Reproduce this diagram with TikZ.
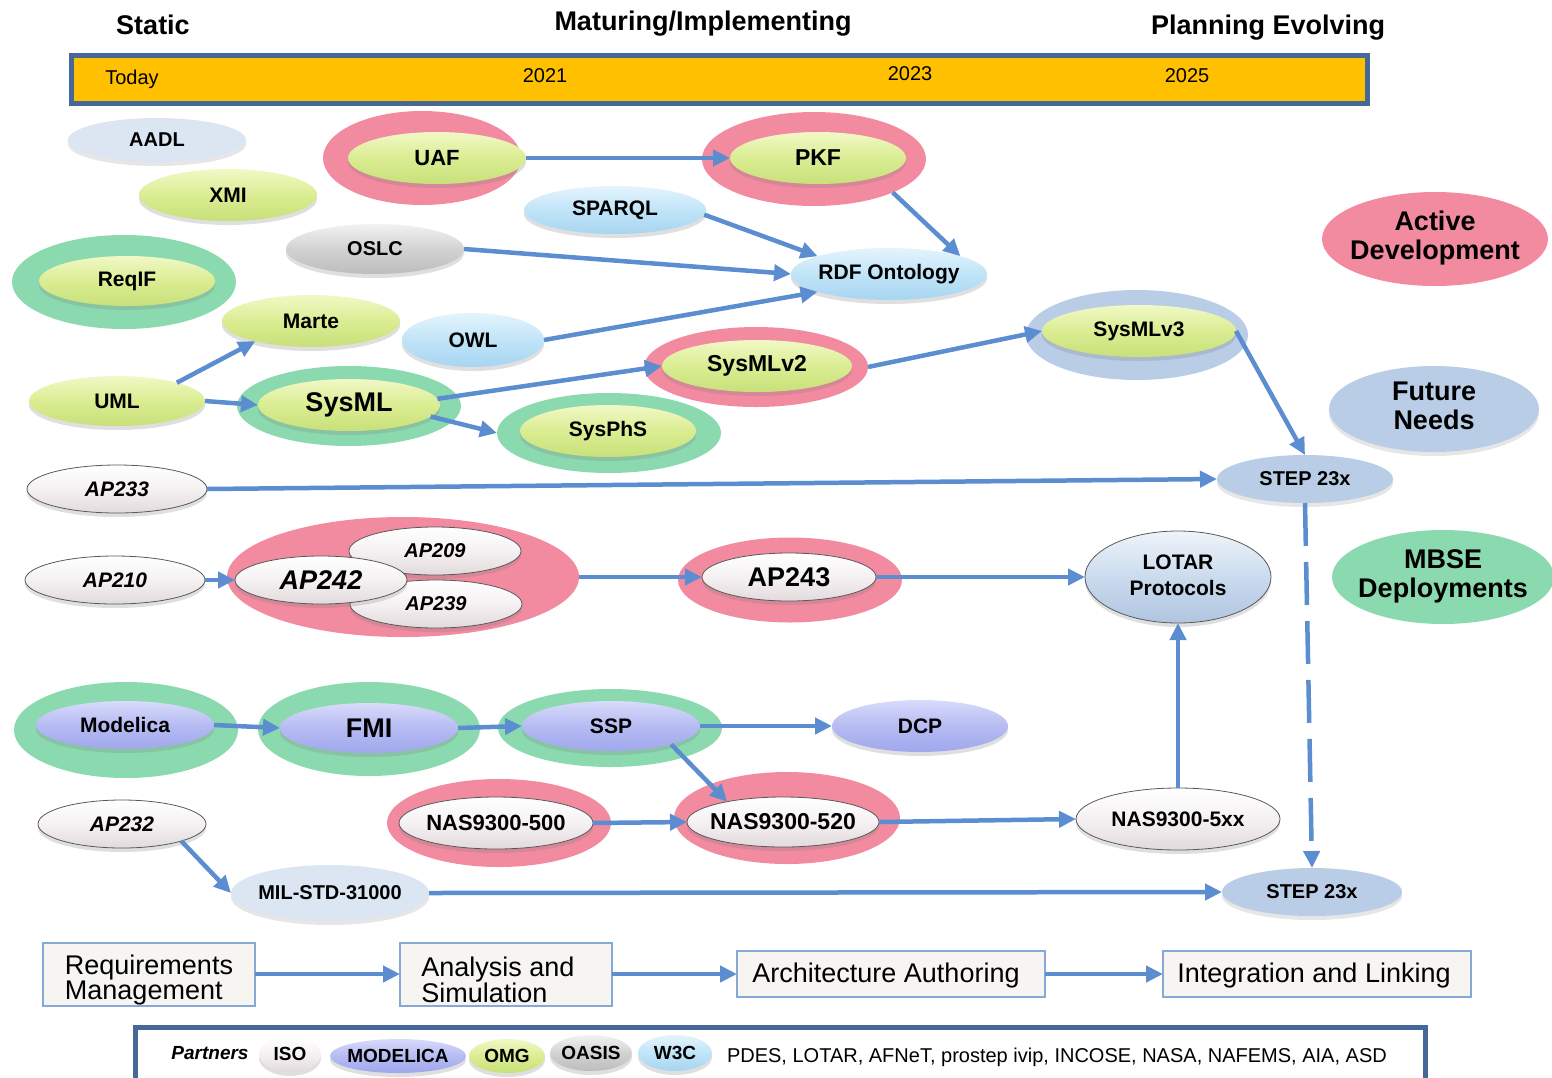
\documentclass[tikz,border=0pt]{standalone}
\usepackage{fontspec}
\setmainfont{Liberation Sans}
\usetikzlibrary{shapes.geometric,arrows.meta,shadows}

\definecolor{linkblue}{HTML}{5B8DD0}
\definecolor{barfill}{HTML}{FFC000}
\definecolor{barline}{HTML}{46679A}
\definecolor{pinkhalo}{HTML}{F28AA0}
\definecolor{greenhalo}{HTML}{8BDAAF}
\definecolor{bluehalo}{HTML}{BACDE6}
\definecolor{paleblue}{HTML}{DCE6F2}
\definecolor{boxfill}{HTML}{F6F5F1}
\definecolor{boxline}{HTML}{85A8D6}
% glossy oval colours (top / middle / bottom)
\definecolor{ygT}{HTML}{F1F8C6}\definecolor{ygM}{HTML}{DAED92}\definecolor{ygB}{HTML}{C8E07A}
\definecolor{lbT}{HTML}{E4F4FC}\definecolor{lbM}{HTML}{C0E4F8}\definecolor{lbB}{HTML}{A8D5F1}
\definecolor{gyT}{HTML}{F2F2F2}\definecolor{gyM}{HTML}{D2D2D2}\definecolor{gyB}{HTML}{BDBDBD}
\definecolor{puT}{HTML}{D8DBFA}\definecolor{puM}{HTML}{B6BBF3}\definecolor{puB}{HTML}{A0A8EC}
\definecolor{wtT}{HTML}{FFFFFF}\definecolor{wtM}{HTML}{F5F1F2}\definecolor{wtB}{HTML}{E2DADC}
\definecolor{ltT}{HTML}{EEF4FA}\definecolor{ltM}{HTML}{CBDBEE}\definecolor{ltB}{HTML}{B0C5E0}

\newcommand{\ctext}[1]{\makebox[0pt]{#1}}
\newcommand{\twol}[2]{\makebox[0pt]{\begin{tabular}{@{}c@{}}#1\\#2\end{tabular}}}
\newcommand{\fsz}[1]{\fontsize{#1}{#1}\selectfont}

\begin{document}
\begin{tikzpicture}[x=1pt,y=-1pt,
  every node/.style={inner sep=0pt,outer sep=0pt},
  wh/.style 2 args={ellipse,minimum width=#1pt,minimum height=#2pt},
  lab/.style={font=\fsz{#1}\bfseries},
  lab/.default=21,
  ilab/.style={font=\fsz{#1}\bfseries\itshape},
  ilab/.default=21,
  halo/.style={ellipse,fill=#1},
  gl/.style={ellipse,lab,drop shadow={opacity=.25,shadow xshift=0pt,shadow yshift=-4pt}},
  yg/.style={gl,top color=ygT,bottom color=ygB,middle color=ygM},
  lb/.style={gl,top color=lbT,bottom color=lbB,middle color=lbM},
  gy/.style={gl,top color=gyT,bottom color=gyB,middle color=gyM},
  pu/.style={gl,top color=puT,bottom color=puB,middle color=puM},
  wt/.style={gl,top color=wtT,bottom color=wtB,middle color=wtM,draw=black!65,line width=.8pt},
  lt/.style={gl,top color=ltT,bottom color=ltB,middle color=ltM,draw=black!65,line width=.8pt},
  flat/.style={ellipse,lab,fill=#1,drop shadow={opacity=.2,shadow xshift=0pt,shadow yshift=-4pt}},
  link/.style={draw=linkblue,line width=4.5pt,-{Triangle[length=17pt,width=16pt]}},
  stage/.style={draw=boxline,line width=2pt,fill=boxfill},
  stagetext/.style={font=\fontsize{27}{24}\selectfont,align=left},
  head/.style={font=\fsz{27}\bfseries},
  year/.style={font=\fsz{20}}
]
\useasboundingbox (0,0) rectangle (1552,1077);

% ---------- time line ----------
\node[head] (hstatic) at (153,25) {Static};
\node[head] (hmature) at (703,24) {Maturing/Implementing};
\node[head] (hplan) at (1268,28) {Planning Evolving};
\draw[barline,line width=5pt,fill=barfill] (71,55) rectangle (1367,103);
\node[year] (ytoday) at (132,79) {Today};
\node[year] (y2021) at (545,76) {2021};
\node[year] (y2023) at (910,74) {2023};
\node[year] (y2025) at (1187,76) {2025};

% ---------- halos ----------
\node[halo=pinkhalo,wh={198}{94}] (uafh) at (422,158) {};
\node[halo=pinkhalo,wh={224}{94}] (pkfh) at (814,159) {};
\node[halo=greenhalo,wh={224}{94}] (reqifh) at (124,282) {};
\node[halo=pinkhalo,wh={224}{80}] (v2h) at (756,367) {};
\node[halo=bluehalo,wh={222}{90}] (v3h) at (1137,335) {};
\node[halo=greenhalo,wh={224}{80}] (sysmlh) at (349,406) {};
\node[halo=greenhalo,wh={224}{80}] (sysphsh) at (609,433) {};
\node[halo=pinkhalo,wh={352}{120}] (ap242h) at (403,577) {};
\node[halo=pinkhalo,wh={224}{85}] (ap243h) at (790,580) {};
\node[halo=greenhalo,wh={224}{96}] (modelicah) at (126,730) {};
\node[halo=greenhalo,wh={222}{94}] (fmih) at (369,729) {};
\node[halo=greenhalo,wh={224}{78}] (ssph) at (610,728) {};
\node[halo=pinkhalo,wh={224}{88}] (nas500h) at (499,823) {};
\node[halo=pinkhalo,wh={226}{92}] (nas520h) at (787,818) {};

% ---------- legend ovals ----------
\node[halo=pinkhalo,wh={226}{94},font=\fsz{27}\bfseries] (active) at (1435,239) {\fontsize{27}{29}\selectfont\twol{Active}{Development}};
\node[halo=bluehalo,wh={210}{86},font=\fsz{27}\bfseries,drop shadow={opacity=.2,shadow xshift=0pt,shadow yshift=-4pt}] (future) at (1434,409) {\fontsize{27}{29}\selectfont\twol{Future}{Needs}};
\node[halo=greenhalo,wh={222}{94},font=\fsz{27}\bfseries] (mbse) at (1443,577) {\fontsize{27}{29}\selectfont\twol{MBSE}{Deployments}};

% ---------- standards ----------
\node[flat=paleblue,wh={178}{44},lab=20] (aadl) at (157,140) {\ctext{AADL}};
\node[yg,wh={178}{52}] (xmi) at (228,195) {\ctext{XMI}};
\node[yg,wh={178}{52},lab=22] (uaf) at (437,158) {\ctext{UAF}};
\node[yg,wh={176}{52},lab=23] (pkf) at (818,158) {\ctext{PKF}};
\node[lb,wh={182}{48}] (sparql) at (615,210) {\ctext{SPARQL}};
\node[gy,wh={178}{50},lab=20] (oslc) at (375,249) {\ctext{OSLC}};
\node[lb,wh={196}{52}] (rdf) at (889,274) {\ctext{RDF Ontology}};
\node[yg,wh={176}{50}] (reqif) at (127,281) {\ctext{ReqIF}};
\node[yg,wh={178}{52}] (marte) at (311,321) {\ctext{Marte}};
\node[lb,wh={142}{54}] (owl) at (473,340) {\ctext{OWL}};
\node[yg,wh={190}{52},lab=23] (v2) at (757,366) {\ctext{SysMLv2}};
\node[yg,wh={194}{52}] (v3) at (1139,331) {\ctext{SysMLv3}};
\node[yg,wh={176}{50}] (uml) at (117,401) {\ctext{UML}};
\node[yg,wh={182}{52},lab=27] (sysml) at (349,405) {\ctext{SysML}};
\node[yg,wh={176}{52}] (sysphs) at (608,431) {\ctext{SysPhS}};
\node[flat=bluehalo,wh={176}{48},lab=20] (stept) at (1305,479) {\ctext{STEP 23x}};

\node[wt,wh={180}{48},ilab] (ap233) at (117,489) {\ctext{AP233}};
\node[wt,wh={180}{48},ilab] (ap210) at (115,580) {\ctext{AP210}};
\node[wt,wh={172}{48},ilab=20] (ap209) at (435,551) {\ctext{AP209}};
\node[wt,wh={172}{48},ilab=20] (ap239) at (436,604) {\ctext{AP239}};
\node[wt,wh={172}{48},ilab=27] (ap242) at (321,580) {\ctext{AP242}};
\node[wt,wh={174}{48},lab=27] (ap243) at (789,577) {\ctext{AP243}};
\node[lt,wh={186}{92}] (lotar) at (1178,577) {\fontsize{21}{26}\selectfont\twol{LOTAR}{Protocols}};

\node[pu,wh={178}{48}] (modelica) at (125,725) {\ctext{Modelica}};
\node[pu,wh={178}{50},lab=27] (fmi) at (369,728) {\ctext{FMI}};
\node[pu,wh={178}{50}] (ssp) at (611,726) {\ctext{SSP}};
\node[pu,wh={176}{52}] (dcp) at (920,726) {\ctext{DCP}};
\node[wt,wh={168}{48},ilab] (ap232) at (122,824) {\ctext{AP232}};
\node[wt,wh={194}{52},lab=22] (nas500) at (496,823) {\ctext{NAS9300-500}};
\node[wt,wh={192}{50},lab=23] (nas520) at (783,822) {\ctext{NAS9300-520}};
\node[wt,wh={204}{62}] (nas5xx) at (1178,819) {\ctext{NAS9300-5xx}};
\node[flat=paleblue,wh={198}{56},lab=20] (mil) at (330,893) {\ctext{MIL-STD-31000}};
\node[flat=bluehalo,wh={180}{48},lab=20] (stepb) at (1312,892) {\ctext{STEP 23x}};

% ---------- connectors ----------
\draw[link] (uaf.east) -- (pkf.west);
\draw[link] (pkfh.-23) -- (rdf.14);
\draw[link] (sparql.-3) -- (rdf.166);
\draw[link] (oslc.east) -- (rdf.west);
\draw[link] (owl.east) -- (rdf.194);
\draw[link] (uml.17) -- (marte.200);
\draw[link] (uml.east) -- (sysml.west);
\draw[link] (sysml.4) -- (v2.west);
\draw[link] (sysml.-8) -- (sysphsh.west);
\draw[link] (v2h.east) -- (v3.west);
\draw[link] (v3.east) -- (stept.north);
\draw[link] (ap233.east) -- (stept.west);
\draw[link] (ap210.east) -- (ap242.west);
\draw[link] (ap242h.east) -- (ap243.west);
\draw[link] (ap243.east) -- (lotar.west);
\draw[link,dash pattern=on 43pt off 16pt] (stept.south) -- (stepb.north);
\draw[link] (nas5xx.north) -- (lotar.south);
\draw[link] (modelica.east) -- (fmi.west);
\draw[link] (fmi.east) -- (ssp.west);
\draw[link] (ssp.east) -- (dcp.west);
\draw[link] (ssp.-17) -- (nas520.160);
\draw[link] (nas500.east) -- (nas520.west);
\draw[link] (nas520.east) -- (nas5xx.west);
\draw[link] (ap232.-16) -- (mil.west);
\draw[link] (mil.east) -- (stepb.west);

% ---------- process stages ----------
\node[stage,minimum width=212pt,minimum height=63pt] (req) at (149,974) {};
\node[stagetext] (reqt) at (149,980) {Requirements\\Management};
\node[stage,minimum width=212pt,minimum height=63pt] (ana) at (506,974) {};
\node[stagetext] (anat) at (498,980) {Analysis and\\Simulation};
\node[stage,minimum width=308pt,minimum height=46pt] (arch) at (891,974) {};
\node[stagetext] (archt) at (886,976) {Architecture Authoring};
\node[stage,minimum width=308pt,minimum height=46pt] (integ) at (1317,974) {};
\node[stagetext] (integt) at (1314,976) {Integration and Linking};
\draw[link] (req.east) -- (ana.west);
\draw[link] (ana.east) -- (arch.west);
\draw[link] (arch.east) -- (integ.west);

% ---------- partners ----------
\draw[barline,line width=5pt] (135,1027) rectangle (1425,1100);
\node[font=\fsz{19}\bfseries\itshape] (partners) at (210,1053) {Partners};
\node[wt,draw=none,wh={62}{36},lab=19] (piso) at (290,1054) {\ctext{ISO}};
\node[pu,wh={136}{34},lab=19] (pmod) at (398,1056) {\ctext{MODELICA}};
\node[yg,wh={76}{34},lab=19] (pomg) at (507,1056) {\ctext{OMG}};
\node[gy,wh={82}{36},lab=19] (poasis) at (591,1053) {\ctext{OASIS}};
\node[lb,wh={74}{36},lab=19] (pw3c) at (675,1053) {\ctext{W3C}};
\node[font=\fsz{20},anchor=west] (plist) at (727,1057) {PDES, LOTAR, AFNeT, prostep ivip, INCOSE, NASA, NAFEMS, AIA, ASD};
\end{tikzpicture}
\end{document}
